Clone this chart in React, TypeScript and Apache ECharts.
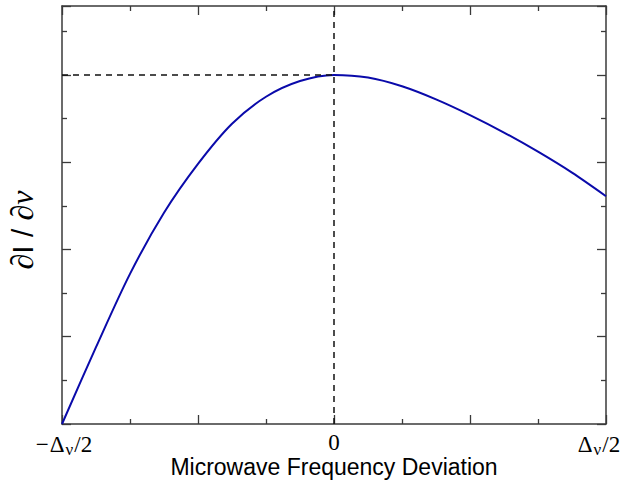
import React, { useEffect, useRef } from "react";
import * as echarts from "echarts";

// Frequency deviation in units of Δν/8 (−4 = −Δν/2, 4 = Δν/2)
const xValues = [-4, -3.5, -3, -2.5, -2, -1.5, -1, -0.5, 0, 0.5, 1, 1.5, 2, 2.5, 3, 3.5, 4];
// ∂I/∂ν (arbitrary units)
const yValues = [0, 0.88, 1.72, 2.42, 2.98, 3.44, 3.75, 3.93, 4.0, 3.97, 3.87, 3.72, 3.54, 3.34, 3.12, 2.88, 2.61];
const peakX = 0;
const peakY = 4;
const xTickLabels: Record<string, string> = {
  "-4": "{lead|−}Δ{sub|ν}/2",
  "0": "0",
  "4": "Δ{sub|ν}{tail|/2}",
};
const xTitle = "Microwave Frequency Deviation";

export default function App() {
  const ref = useRef<HTMLDivElement>(null);
  useEffect(() => {
    if (!ref.current) return;
    document.body.style.margin = "0";
    const chart = echarts.init(ref.current, undefined, { renderer: "svg", width: 622, height: 490 });
    const frame = "#3a3a3a";
    const serif = { fontFamily: "Liberation Serif", fontSize: 23, color: "#000" };
    const tickCommon = {
      axisLine: { show: true, onZero: false, lineStyle: { color: frame, width: 1.5 } },
      axisTick: { show: true, inside: true, length: 9, lineStyle: { color: frame, width: 1.3 } },
      minorTick: { show: true, splitNumber: 2, length: 5, lineStyle: { color: frame, width: 1.3 } },
      splitLine: { show: false },
      minorSplitLine: { show: false },
    };
    const xAx = (pos: string, labels: boolean) => ({
      type: "value",
      position: pos,
      min: -4,
      max: 4,
      interval: 2,
      ...tickCommon,
      axisLabel: labels
        ? {
            show: true,
            margin: 7,
            ...serif,
            hideOverlap: false,
            formatter: (v: number) => xTickLabels[String(v)] ?? "",
            rich: {
              sub: { fontFamily: "Liberation Serif", fontSize: 17, color: "#000", padding: [10, 1, 0, 1] },
              lead: { ...serif, padding: [0, 1, 0, 4] },
              tail: { ...serif, padding: [0, 14, 0, 0] },
            },
          }
        : { show: false },
    });
    const yAx = (pos: string) => ({
      type: "value",
      position: pos,
      min: 0,
      max: 4.79,
      interval: 1,
      ...tickCommon,
      axisLabel: { show: false },
    });
    const data = xValues.map((x, i) => [x, yValues[i]]);
    chart.setOption({
      animation: false,
      backgroundColor: "#fff",
      grid: { left: 62, right: 16, top: 6, bottom: 66, containLabel: false, outerBoundsMode: "none" },
      xAxis: [xAx("bottom", true), xAx("top", false)],
      yAxis: [yAx("left"), yAx("right")],
      series: [
        {
          type: "line",
          data,
          smooth: 0.3,
          showSymbol: false,
          lineStyle: { color: "#0a0aaa", width: 2 },
          z: 3,
          markLine: {
            silent: true,
            symbol: "none",
            label: { show: false },
            lineStyle: { color: "#111", type: [6, 5], width: 1.5 },
            data: [
              [
                { coord: [peakX, 0] },
                { coord: [peakX, 4.79] },
              ],
              [
                { coord: [-4, peakY] },
                { coord: [peakX, peakY] },
              ],
            ],
          },
        },
      ],
      graphic: [
        {
          type: "text",
          x: 334,
          y: 467,
          style: {
            text: xTitle,
            fontFamily: "Liberation Sans",
            fontSize: 23,
            fill: "#000",
            align: "center",
            verticalAlign: "middle",
          },
        },
        {
          type: "text",
          x: 22,
          y: 230,
          rotation: Math.PI / 2,
          style: {
            text: "{s|∂}{a|I / }{s|∂ν}",
            align: "center",
            verticalAlign: "middle",
            fill: "#000",
            rich: {
              s: { fontFamily: "Liberation Serif", fontStyle: "italic", fontSize: 32, fill: "#000" },
              a: { fontFamily: "Liberation Sans", fontSize: 30, fill: "#000" },
            },
          },
        },
      ],
    });
    return () => chart.dispose();
  }, []);
  return (
    <div
      ref={ref}
      style={{ position: "absolute", left: 0, top: 0, width: 622, height: 490, background: "#fff" }}
    />
  );
}
